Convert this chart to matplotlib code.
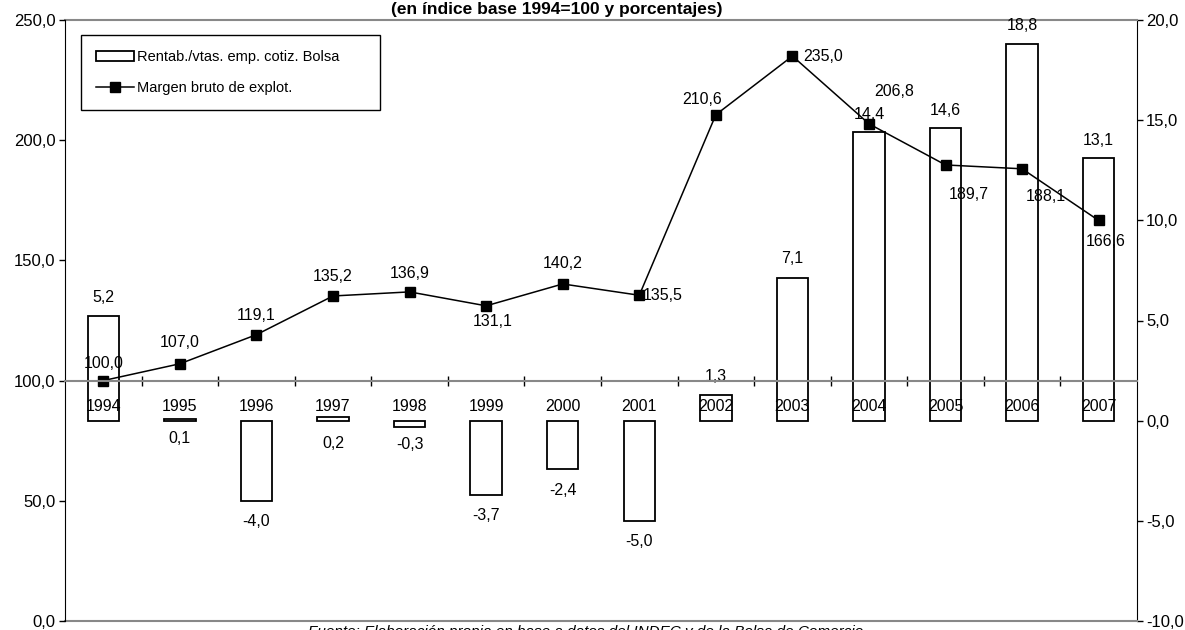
import numpy as np
import matplotlib
matplotlib.use("Agg")
import matplotlib.pyplot as plt
from matplotlib.ticker import FuncFormatter, FixedLocator

plt.rcParams['font.family'] = ['Liberation Sans', 'DejaVu Sans']

years = ['1994', '1995', '1996', '1997', '1998', '1999', '2000',
         '2001', '2002', '2003', '2004', '2005', '2006', '2007']
rentab = [5.2, 0.1, -4.0, 0.2, -0.3, -3.7, -2.4, -5.0, 1.3, 7.1, 14.4, 14.6, 18.8, 13.1]
margen = [100.0, 107.0, 119.1, 135.2, 136.9, 131.1, 140.2, 135.5,
          210.6, 235.0, 206.8, 189.7, 188.1, 166.6]

# label offsets in points (dx, dy) for each data label
bar_offsets = [(0, 14), (0, -14), (0, -15), (0, -19), (0, -13), (0, -15), (0, -16),
               (0, -15), (0, 13), (0, 14), (0, 13), (0, 13), (0, 13), (0, 13)]
line_offsets = [(0, 12), (0, 15), (0, 14), (0, 14), (0, 13), (5, -11), (0, 15),
                (17, 0), (-10, 11), (22, 0), (18, 23), (17, -21), (17, -20), (5, -15)]

def comma(v, pos=None):
    return f"{v:.1f}".replace('.', ',')

x = np.arange(len(years))

fig = plt.figure(figsize=(11.85, 6.3), dpi=100)
ax = fig.add_axes([65 / 1185, 9 / 630, 1072 / 1185, 601 / 630])
ax2 = ax.twinx()
ax.set_zorder(ax2.get_zorder() + 1)
ax.patch.set_visible(False)

# bars on the right axis
ax2.bar(x, rentab, width=0.41, color='white', edgecolor='black', linewidth=1.3)
ax2.set_ylim(-10, 20)
ax2.set_yticks(np.arange(-10, 21, 5))
ax2.yaxis.set_major_formatter(FuncFormatter(comma))
ax2.tick_params(axis='y', direction='out', length=4, width=1, labelsize=12, pad=2.5)
ax2.spines['left'].set_visible(False)
ax2.spines['right'].set_color('black')
for s in ['top', 'bottom']:
    ax2.spines[s].set_color('#888888')
    ax2.spines[s].set_linewidth(1.5)

for xi, v, (dx, dy) in zip(x, rentab, bar_offsets):
    ax2.annotate(comma(v), (xi, v), xytext=(dx, dy), textcoords='offset points',
                 ha='center', va='center', fontsize=11.5)

# index line on the left axis
ax.plot(x, margen, color='black', linewidth=1.1, marker='s', markersize=7,
        markerfacecolor='black', markeredgecolor='black')
ax.set_ylim(0, 250)
ax.set_xlim(-0.5, len(years) - 0.5)
ax.set_yticks(np.arange(0, 251, 50))
ax.yaxis.set_major_formatter(FuncFormatter(comma))
ax.tick_params(axis='y', direction='out', length=4, width=1, labelsize=12, pad=3)

for xi, v, (dx, dy) in zip(x, margen, line_offsets):
    ax.annotate(comma(v), (xi, v), xytext=(dx, dy), textcoords='offset points',
                ha='center', va='center', fontsize=11.5)

# category axis crossing at 100
ax.spines['bottom'].set_position(('data', 100))
ax.spines['bottom'].set_color('#888888')
ax.spines['bottom'].set_linewidth(1.5)
ax.spines['top'].set_visible(False)
ax.spines['right'].set_visible(False)
ax.spines['left'].set_color('black')
ax.set_xticks(x)
ax.set_xticklabels(years)
ax.xaxis.set_minor_locator(FixedLocator(np.arange(0.5, len(years) - 1, 1)))
ax.tick_params(axis='x', which='major', length=0, labelsize=11.5, pad=13)
ax.tick_params(axis='x', which='minor', direction='inout', length=6.5, width=1, color='black')

handles = [plt.Rectangle((0, 0), 1, 1, facecolor='white', edgecolor='black', linewidth=1.3),
           plt.Line2D([], [], color='black', linewidth=1.1, marker='s', markersize=7)]
leg = ax.legend(handles, ['Rentab./vtas. emp. cotiz. Bolsa', 'Margen bruto de explot.'],
                loc='upper left', mode='expand',
                bbox_to_anchor=(81 / 1185, 1 - 110 / 630, 299 / 1185, 75 / 630),
                bbox_transform=fig.transFigure, borderaxespad=0, fontsize=10.5,
                frameon=True, fancybox=False, shadow=False, framealpha=1,
                edgecolor='black', borderpad=1.05, labelspacing=1.15,
                handlelength=2.6, handletextpad=0.2)
leg.get_frame().set_linewidth(1.0)

fig.text(557 / 1185, 1 - 14 / 630, '(en índice base 1994=100 y porcentajes)',
         ha='center', va='baseline', fontsize=12.5, fontweight='bold')
fig.text(308 / 1185, 5 / 630,
         'Fuente: Elaboración propia en base a datos del INDEC y de la Bolsa de Comercio',
         ha='left', va='top', fontsize=11, style='italic')

fig.savefig('out.png', dpi=100)
